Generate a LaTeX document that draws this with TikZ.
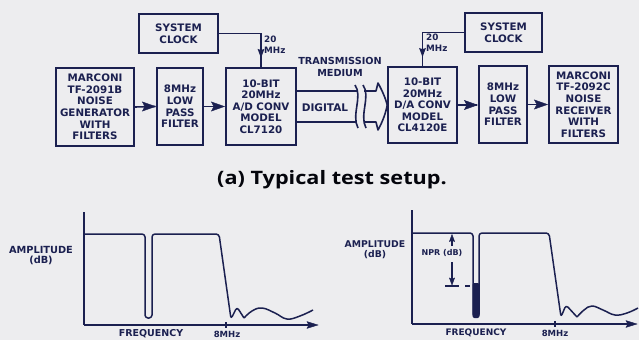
\documentclass[tikz,border=0pt]{standalone}
\usepackage{fontspec}
\newfontfamily\dv{DejaVu Sans}
\newfontfamily\capfont[FakeStretch=1.17]{Open Sans}
\usetikzlibrary{arrows.meta,decorations.markings}
\definecolor{ink}{RGB}{27,32,80}
\definecolor{paper}{RGB}{237,237,239}
\tikzset{
  box/.style={draw=ink, line width=1.6pt, inner sep=0pt, align=center, text=ink,
    font={\dv\bfseries\fontsize{10.3}{11.6}\selectfont}},
  lbl/.style={text=ink, inner sep=0pt, align=center},
  small/.style={font={\dv\bfseries\fontsize{8.8}{10.5}\selectfont}},
  wire/.style={draw=ink, line width=1.6pt},
  midarr/.style={postaction={decorate}, decoration={markings,
    mark=at position #1 with {\arrow{Stealth[length=9pt,width=6.5pt,inset=1pt]}}}},
  curve/.style={draw=ink, line width=1.5pt, line join=round},
  axis/.style={draw=ink, line width=1.4pt},
  tip/.style={fill=ink, draw=ink, line width=0.4pt, line join=miter},
}
\begin{document}
\begin{tikzpicture}[x=1pt,y=-1pt]
\fill[paper] (0,0) rectangle (639,340);
\useasboundingbox (0,0) rectangle (639,340);

% ---- blocks ----
\node[box, minimum width=79pt, minimum height=39pt] (clk1) at (178.5,33.5) {SYSTEM\\CLOCK};
\node[box, minimum width=78pt, minimum height=78pt] (marc) at (95,107) {MARCONI\\TF-2091B\\NOISE\\GENERATOR\\WITH\\FILTERS};
\node[box, minimum width=46pt, minimum height=77pt] (lpfa) at (180,106.5) {8MHz\\LOW\\PASS\\FILTER};
\node[box, minimum width=70pt, minimum height=77pt] (ad) at (261,106.5) {10-BIT\\20MHz\\A/D CONV\\MODEL\\CL7120};
\node[box, minimum width=77pt, minimum height=39pt] (clk2) at (503.5,32.5) {SYSTEM\\CLOCK};
\node[box, minimum width=69pt, minimum height=76pt] (da) at (422.5,105) {10-BIT\\20MHz\\D/A CONV\\MODEL\\CL4120E};
\node[box, minimum width=48pt, minimum height=77pt] (lpfb) at (503,104.5) {8MHz\\LOW\\PASS\\FILTER};
\node[box, minimum width=69pt, minimum height=77pt] (rec) at (583.5,104.5) {MARCONI\\TF-2092C\\NOISE\\RECEIVER\\WITH\\FILTERS};

% ---- connectors ----
\coordinate (t1) at ([xshift=-0.8pt]lpfa.west);
\coordinate (t2) at ([xshift=-0.8pt]lpfa.east -| ad.west);
\coordinate (t3) at ([xshift=-0.8pt]da.east -| lpfb.west);
\coordinate (t4) at ([xshift=-0.8pt]rec.west);
\draw[wire] (marc.east) -- (t1);
\draw[wire] (lpfa.east) -- (t2);
\draw[wire] (da.east) -- (t3);
\draw[wire] (lpfb.east) -- (t4);
\foreach \tp in {t1,t2,t3,t4}
  \path[tip] (\tp) -- ++(-13,4.6) -- ++(2.5,-4.6) -- ++(-2.5,-4.6) -- cycle;
\draw[wire, midarr=0.88] (clk1.east) -| (ad.north);
\draw[wire, midarr=0.88] (clk2.west) -| (da.north);
\node[lbl, small, anchor=north west, align=left] (f1) at (264,36) {20\\MHz};
\node[lbl, small, anchor=north west, align=left] (f2) at (426,34) {20\\MHz};

% ---- transmission medium ----
\coordinate (mt) at (357,91);
\coordinate (mb) at (357,122);
\draw[wire] (ad.east |- mt) -- (mt);
\draw[wire] (ad.east |- mb) -- (mb);
\draw[wire] (355,85) .. controls (363,96) and (351,115) .. (358,128);
\draw[wire] (363,85) .. controls (371,96) and (359,115) .. (366,128);
\draw[wire, line join=round] (364,91) -- (376,91) -- (378,83)
   .. controls (383,92) and (386,100) .. (da.west)
   .. controls (386,112) and (383,121) .. (378,130) -- (376,122) -- (364,122);
\node[lbl, font={\dv\bfseries\fontsize{9.7}{12}\selectfont}] (tm) at (340,66.5) {TRANSMISSION\\MEDIUM};
\node[lbl, font={\dv\bfseries\fontsize{10.5}{12}\selectfont}] (dig) at (325,108) {DIGITAL};

% ---- caption ----
\node[lbl, font={\capfont\bfseries\fontsize{18.5}{20}\selectfont}, text=black!85!ink] (cap) at (332,179.5) {(a) Typical test setup.};

% ---- left plot ----
\coordinate (lo) at (84,325);
\coordinate (lx) at (318,325);
\draw[axis] (84,212) -- (lo);
\draw[axis] (lo) -- ([xshift=-6pt]lx);
\path[tip] (lx) -- ++(-11,3.4) -- ++(1.8,-3.4) -- ++(-1.8,-3.4) -- cycle;
\draw[curve, rounded corners=3pt] (84,234) -- (145,234) -- (145,318) -- (152,318) -- (152,234) -- (219,234) -- (231,319) -- (237,307) -- (244,318);
\draw[curve] plot[smooth, tension=0.7] coordinates {(244,318) (252,311) (262,308) (275,313) (287,319) (300,316) (313,310)};
\draw[ink, line width=1.2pt] (226,322) -- (226,328);
\node[lbl, font={\dv\bfseries\fontsize{9.8}{10}\selectfont}] (al) at (41,256) {AMPLITUDE\\(dB)};
\node[lbl, font={\dv\bfseries\fontsize{9.5}{10}\selectfont}] (fl) at (151,334) {FREQUENCY};
\node[lbl, font={\dv\bfseries\fontsize{8.5}{10}\selectfont}] (ml) at (227,334) {8MHz};

% ---- right plot ----
\coordinate (ro) at (412,324);
\coordinate (rx) at (637,324);
\draw[axis] (412,210) -- (ro);
\draw[axis] (ro) -- ([xshift=-6pt]rx);
\path[tip] (rx) -- ++(-11,3.4) -- ++(1.8,-3.4) -- ++(-1.8,-3.4) -- cycle;
\fill[ink, rounded corners=2pt] (472.5,283) rectangle (479.5,318);
\draw[curve, rounded corners=3pt] (412,233) -- (473,233) -- (473,317) -- (479,317) -- (479,233) -- (549,233) -- (561,317) -- (566,305) -- (577,317);
\draw[curve] plot[smooth, tension=0.7] coordinates {(577,317) (584,310) (592,306) (603,310) (615,315) (627,313) (638,308)};
\draw[ink, line width=1.2pt] (555,321) -- (555,327);
\coordinate (nt) at (452,234.5);
\coordinate (nb) at (452,285);
\draw[ink, line width=1.3pt] (452,246) -- ([yshift=-4pt]nt);
\path[tip] (nt) -- ++(-2.6,7) -- ++(2.6,-1) -- ++(2.6,1) -- cycle;
\draw[ink, line width=1.3pt] (452,262) -- ([yshift=4pt]nb);
\path[tip] (nb) -- ++(-2.6,-7) -- ++(2.6,1) -- ++(2.6,-1) -- cycle;
\draw[ink, line width=1.4pt] (445,286) -- (459,286);
\draw[ink, line width=1.4pt] (465,286) -- (470,286);
\node[lbl, font={\dv\bfseries\fontsize{8}{10}\selectfont}, fill=paper, inner sep=1pt] (npr) at (442,253) {NPR (dB)};
\node[lbl, font={\dv\bfseries\fontsize{9.3}{10}\selectfont}] (ar) at (375,250) {AMPLITUDE\\(dB)};
\node[lbl, font={\dv\bfseries\fontsize{9}{10}\selectfont}] (fr) at (476,333) {FREQUENCY};
\node[lbl, font={\dv\bfseries\fontsize{8.5}{10}\selectfont}] (mr) at (555,333) {8MHz};
\end{tikzpicture}
\end{document}
